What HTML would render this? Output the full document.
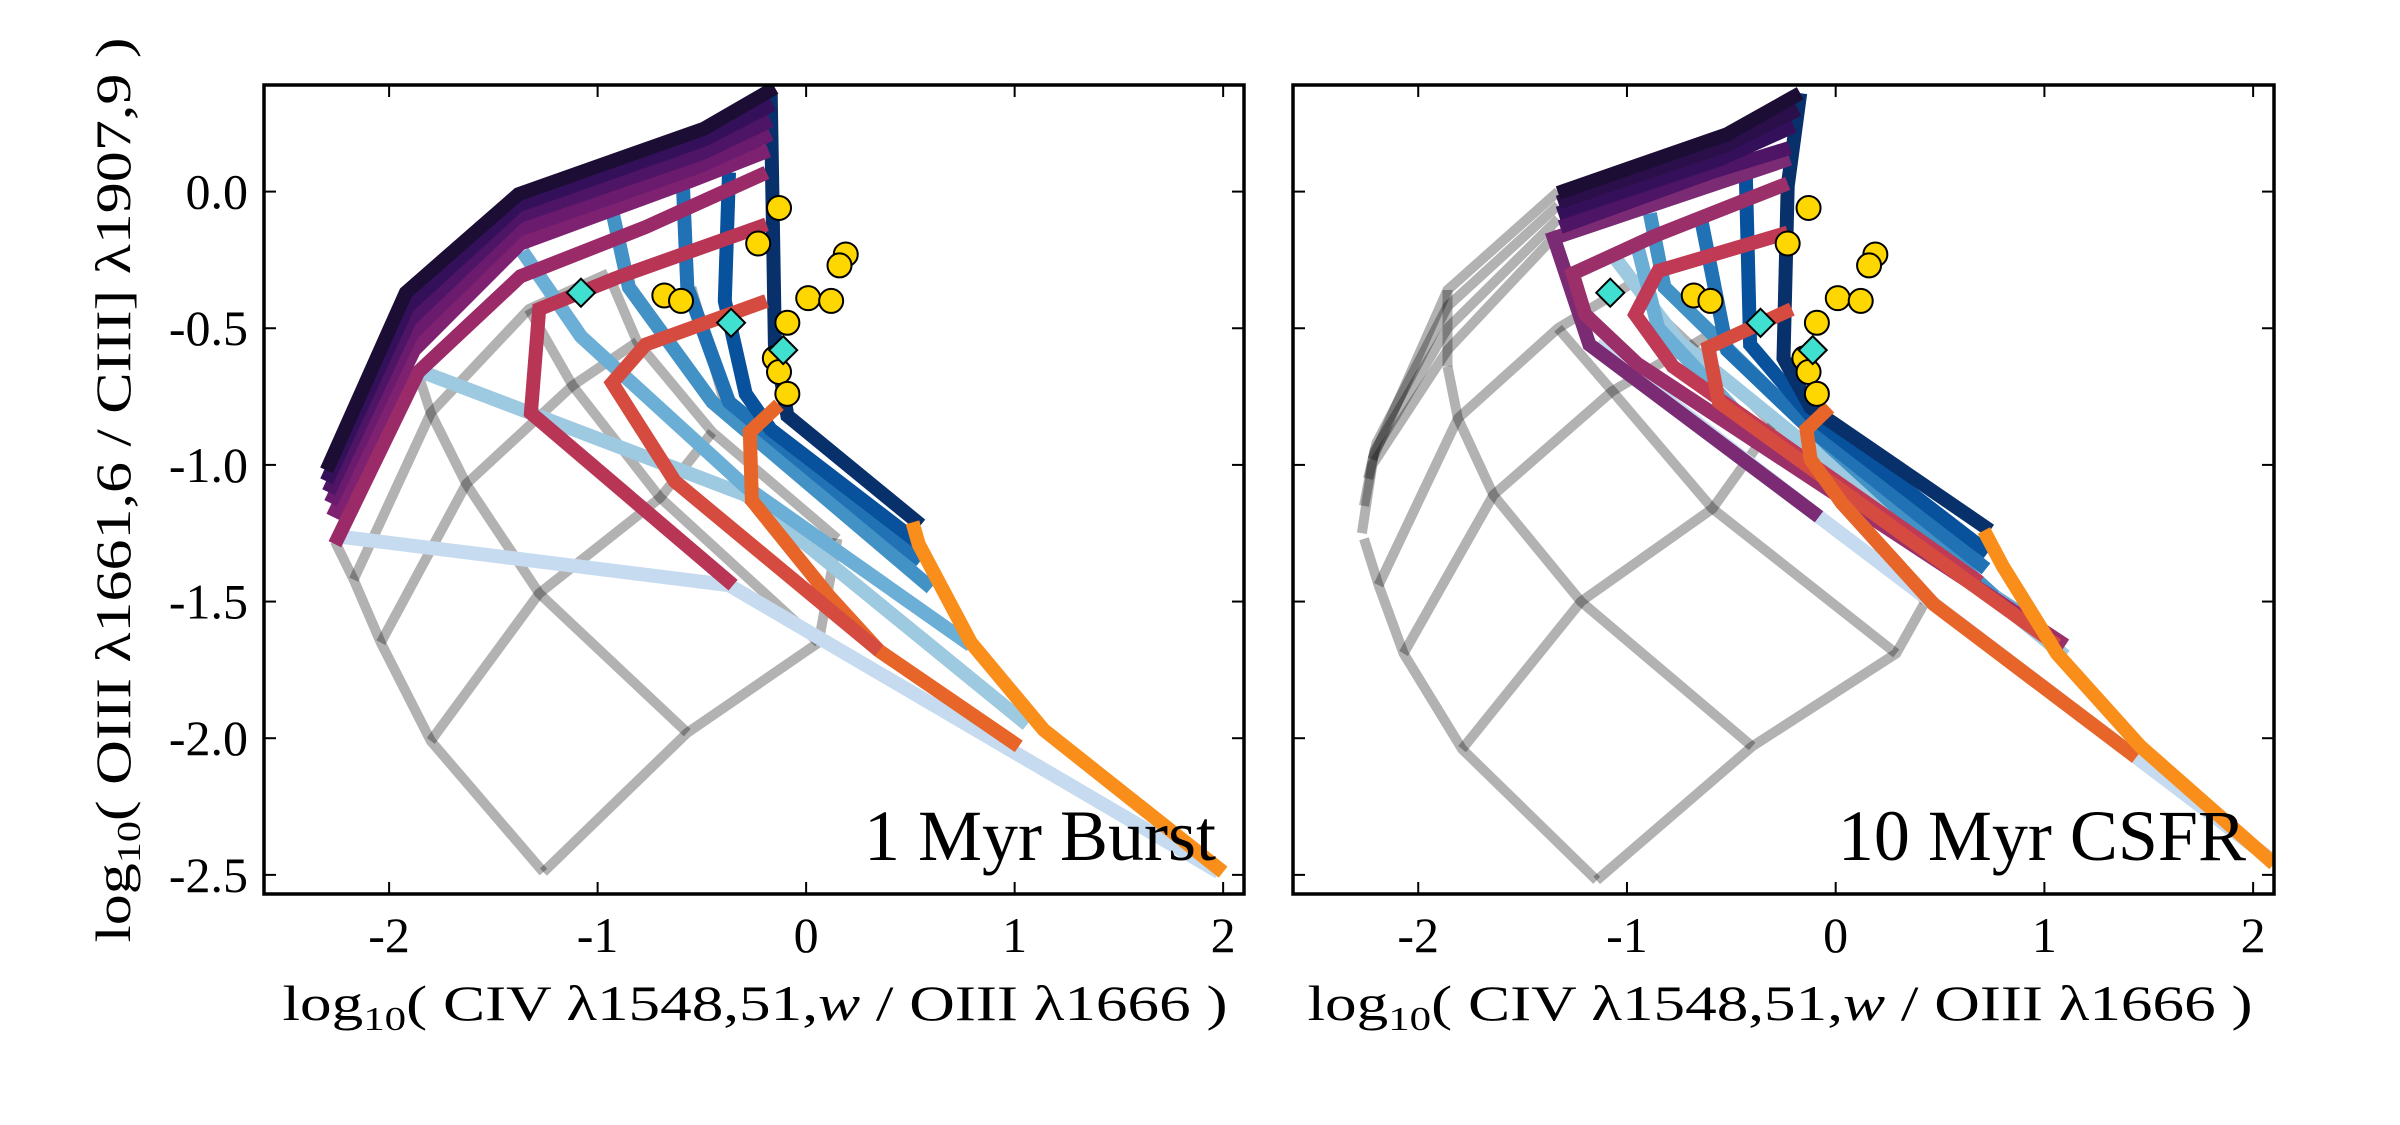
<!DOCTYPE html>
<html><head><meta charset="utf-8"><style>
html,body{margin:0;padding:0;background:#fff;}
svg{display:block;font-family:"Liberation Serif",serif;}
</style></head><body>
<svg id="chart" width="2400" height="1125" viewBox="0 0 2400 1125" xmlns="http://www.w3.org/2000/svg">
<defs>
<clipPath id="clipL"><rect x="264" y="85" width="980" height="809"/></clipPath>
<clipPath id="clipR"><rect x="1293" y="85" width="981" height="809"/></clipPath>
</defs>
<g id="left"></g>
<g id="right"></g>
<text transform="translate(130,490) rotate(-90)" text-anchor="middle" font-size="50" textLength="905" lengthAdjust="spacingAndGlyphs">log<tspan font-size="34" dy="10">10</tspan><tspan dy="-10">( OIII λ1661,6 / CIII] λ1907,9 )</tspan></text>
<text x="755" y="1020" text-anchor="middle" font-size="50" textLength="945" lengthAdjust="spacingAndGlyphs">log<tspan font-size="34" dy="10">10</tspan><tspan dy="-10">( CIV λ1548,51,<tspan font-style="italic">w</tspan> / OIII λ1666 )</tspan></text>
<text x="1780" y="1020" text-anchor="middle" font-size="50" textLength="945" lengthAdjust="spacingAndGlyphs">log<tspan font-size="34" dy="10">10</tspan><tspan dy="-10">( CIV λ1548,51,<tspan font-style="italic">w</tspan> / OIII λ1666 )</tspan></text>
</svg>
<script>
const NS='http://www.w3.org/2000/svg';
const xTicks=[-2,-1,0,1,2];
const yTicks=[0,-0.5,-1,-1.5,-2,-2.5];
const yTickLabels=['0.0','-0.5','-1.0','-1.5','-2.0','-2.5'];
const xTickLabels=['-2','-1','0','1','2'];
const obsX=[-0.13,-0.23,0.19,0.16,0.01,0.12,-0.68,-0.60,-0.09,-0.15,-0.13,-0.09];
const obsY=[-0.06,-0.19,-0.23,-0.27,-0.39,-0.40,-0.38,-0.40,-0.48,-0.61,-0.66,-0.74];
const dmX=[-1.08,-0.36,-0.11];
const dmY=[-0.37,-0.48,-0.58];
const meshLeft=[
[[-2.26,-1.28],[-2.17,-1.42],[-2.04,-1.65],[-1.80,-2.01],[-1.26,-2.49]],
[[-1.86,-0.67],[-1.80,-0.81],[-1.63,-1.07],[-1.28,-1.47],[-0.57,-1.98]],
[[-1.33,-0.43],[-1.12,-0.71],[-0.70,-1.12],[0.06,-1.65]],
[[-0.95,-0.30],[-0.81,-0.55],[-0.45,-0.88],[0.15,-1.27]],
[[-0.55,-0.35],[-0.40,-0.75],[0.05,-1.10]],
[[-1.26,-2.49],[-0.57,-1.98],[0.06,-1.65],[0.15,-1.27]],
[[-1.80,-2.01],[-1.28,-1.47],[-0.70,-1.12],[-0.45,-0.88]],
[[-2.04,-1.65],[-1.63,-1.07],[-1.12,-0.71],[-0.81,-0.55]],
[[-2.17,-1.42],[-1.80,-0.81],[-1.33,-0.43],[-0.95,-0.30]],
[[-2.26,-1.28],[-1.86,-0.67]]];
const meshRight=[
[[-2.26,-1.27],[-2.19,-1.44],[-2.07,-1.69],[-1.79,-2.04],[-1.145,-2.52]],
[[-1.86,-0.64],[-1.81,-0.83],[-1.64,-1.11],[-1.22,-1.50],[-0.40,-2.03]],
[[-1.33,-0.50],[-1.07,-0.73],[-0.59,-1.16],[0.29,-1.69]],
[[-0.85,-0.45],[-0.30,-0.85],[0.43,-1.50]],
[[-1.145,-2.52],[-0.40,-2.03],[0.29,-1.69],[0.43,-1.50]],
[[-1.79,-2.04],[-1.22,-1.50],[-0.59,-1.16],[-0.30,-0.85]],
[[-2.07,-1.69],[-1.64,-1.11],[-1.07,-0.73],[-0.55,-0.50]],
[[-2.19,-1.44],[-1.81,-0.83],[-1.33,-0.50],[-0.90,-0.30]],
[[-2.27,-1.25],[-2.22,-1.00],[-1.86,-0.58],[-1.33,-0.15]],
[[-2.26,-1.15],[-2.21,-0.95],[-1.86,-0.50],[-1.33,-0.10]],
[[-2.24,-1.05],[-2.20,-0.92],[-1.86,-0.42],[-1.33,-0.05]],
[[-2.22,-0.98],[-1.86,-0.36],[-1.33,0.0]],
[[-1.86,-0.36],[-1.86,-0.64]]];
const colLeft=[
['#c6dbef',[[-2.26,-1.26],[-0.37,-1.44],[1.98,-2.49]]],
['#9ecae1',[[-1.84,-0.66],[-0.29,-1.11],[1.06,-1.95]]],
['#6baed6',[[-1.36,-0.22],[-1.08,-0.53],[-0.29,-1.08],[0.79,-1.66]]],
['#4292c6',[[-0.93,-0.07],[-0.85,-0.35],[-0.45,-0.77],[0.60,-1.45]]],
['#2171b5',[[-0.59,0.01],[-0.57,-0.35],[-0.37,-0.77],[0.55,-1.35]]],
['#08519c',[[-0.37,0.07],[-0.39,-0.40],[-0.29,-0.74],[-0.17,-0.87],[0.53,-1.28]]],
['#08306b',[[-0.17,0.36],[-0.15,-0.56],[-0.09,-0.82],[0.55,-1.22]]],
['#9b2a68',[[-2.26,-1.29],[-1.86,-0.66],[-1.37,-0.31],[-0.77,-0.13],[-0.19,0.07]]],
['#7d2170',[[-2.27,-1.19],[-1.88,-0.58],[-1.37,-0.19],[-0.55,0.04],[-0.18,0.15]]],
['#6a1b6e',[[-2.28,-1.14],[-1.89,-0.52],[-1.38,-0.14],[-0.52,0.09],[-0.17,0.21]]],
['#4e1466',[[-2.29,-1.10],[-1.90,-0.47],[-1.38,-0.09],[-0.50,0.14],[-0.17,0.26]]],
['#35105a',[[-2.30,-1.06],[-1.91,-0.42],[-1.38,-0.05],[-0.49,0.19],[-0.16,0.32]]],
['#1c0d35',[[-2.30,-1.02],[-1.92,-0.37],[-1.38,-0.01],[-0.49,0.23],[-0.15,0.38]]],
['#b83556',[[-0.19,-0.12],[-0.89,-0.31],[-1.28,-0.43],[-1.32,-0.81],[-0.35,-1.44]]],
['#e8652a',[[-0.13,-0.78],[-0.27,-0.88],[-0.26,-1.13],[0.11,-1.48],[0.35,-1.68],[1.02,-2.03]]],
['#d64b40',[[-0.19,-0.40],[-0.77,-0.56],[-0.93,-0.70],[-0.63,-1.06],[0.35,-1.68]]],
['#f98e1a',[[0.51,-1.21],[0.54,-1.29],[0.79,-1.65],[1.14,-1.97],[2.00,-2.49]]]];
const colRight=[
['#c6dbef',[[-1.15,-0.56],[-0.08,-1.19],[2.08,-2.44]]],
['#9ecae1',[[-1.05,-0.25],[-0.75,-0.55],[0.30,-1.20],[1.10,-1.70]]],
['#6baed6',[[-0.95,-0.20],[-0.85,-0.50],[-0.30,-0.95],[0.90,-1.55]]],
['#4292c6',[[-0.89,-0.08],[-0.82,-0.35],[-0.19,-0.82],[0.76,-1.48]]],
['#2171b5',[[-0.65,-0.08],[-0.52,-0.58],[-0.15,-0.85],[0.72,-1.38]]],
['#08519c',[[-0.43,0.05],[-0.41,-0.56],[-0.12,-0.82],[0.73,-1.32]]],
['#08306b',[[-0.17,0.36],[-0.23,0.02],[-0.25,-0.61],[-0.12,-0.79],[0.74,-1.24]]],
['#7b2a74',[[-0.22,0.12],[-1.35,-0.17],[-1.18,-0.56],[-0.08,-1.19]]],
['#9b2f6a',[[-0.23,0.03],[-0.86,-0.16],[-1.26,-0.30],[-1.20,-0.45],[-0.95,-0.63],[1.10,-1.66]]],
['#4e1466',[[-1.32,-0.13],[-0.60,0.07],[-0.22,0.16]]],
['#35105a',[[-1.33,-0.08],[-0.55,0.12],[-0.20,0.24]]],
['#2a0f4a',[[-1.33,-0.04],[-0.52,0.17],[-0.18,0.30]]],
['#1c0d35',[[-1.33,-0.005],[-0.52,0.21],[-0.17,0.36]]],
['#c03a55',[[-0.23,-0.15],[-0.85,-0.29],[-0.96,-0.45],[-0.78,-0.64],[0.69,-1.43]]],
['#d64b40',[[-0.21,-0.43],[-0.61,-0.57],[-0.56,-0.77],[1.06,-1.66]]],
['#e8652a',[[-0.03,-0.79],[-0.14,-0.87],[-0.12,-0.98],[0.03,-1.14],[0.47,-1.51],[1.44,-2.07]]],
['#f98e1a',[[0.71,-1.24],[0.80,-1.37],[1.06,-1.69],[1.46,-2.03],[2.10,-2.46]]]];

function mk(tag,attrs,parent){const e=document.createElementNS(NS,tag);for(const k in attrs)e.setAttribute(k,attrs[k]);parent.appendChild(e);return e;}
function panel(gid,x0,x1,clip,mesh,cols,title,showY){
  const g=document.getElementById(gid);
  const X=v=>x0+(v+2.6)/4.7*(x1-x0);
  const Y=v=>85+(0.39-v)/2.96*809;
  const pts=a=>a.map(p=>X(p[0]).toFixed(1)+','+Y(p[1]).toFixed(1)).join(' ');
  const c=mk('g',{'clip-path':'url(#'+clip+')'},g);
  mesh.forEach(l=>{const e=mk('polyline',{points:pts(l),fill:'none',stroke:'#000','stroke-opacity':0.3,'stroke-width':10,'stroke-linejoin':'miter'},c);
    
    });
  cols.forEach(s=>{const e=mk('polyline',{points:pts(s[1]),fill:'none',stroke:s[0],'stroke-width':14,'stroke-linejoin':'miter'},c);
    
    });
  obsX.forEach((v,i)=>{const e=mk('circle',{cx:X(v),cy:Y(obsY[i]),r:12,fill:'#ffd700',stroke:'#000','stroke-width':2},c);
    
    });
  dmX.forEach((v,i)=>{const cx=X(v),cy=Y(dmY[i]);const e=mk('polygon',{points:`${cx},${cy-14} ${cx+14},${cy} ${cx},${cy+14} ${cx-14},${cy}`,fill:'#40e0d0',stroke:'#000','stroke-width':2},c);
    
    });
  const t=mk('text',{x:x1-28,y:860,'text-anchor':'end','font-size':72},g);t.textContent=title;
  
  
  xTicks.forEach((v,i)=>{const x=X(v);
    mk('line',{x1:x,y1:894,x2:x,y2:882,stroke:'#000','stroke-width':2},g);
    mk('line',{x1:x,y1:85,x2:x,y2:97,stroke:'#000','stroke-width':2},g);
    const l=mk('text',{x:x,y:952,'text-anchor':'middle','font-size':50},g);l.textContent=xTickLabels[i];
    
    });
  yTicks.forEach((v,i)=>{const y=Y(v);
    mk('line',{x1:x0,y1:y,x2:x0+12,y2:y,stroke:'#000','stroke-width':2},g);
    mk('line',{x1:x1,y1:y,x2:x1-12,y2:y,stroke:'#000','stroke-width':2},g);
    if(showY){const l=mk('text',{x:x0-16,y:y+17,'text-anchor':'end','font-size':50},g);l.textContent=yTickLabels[i];
      
      }});
  const f=mk('rect',{x:x0,y:85,width:x1-x0,height:809,fill:'none',stroke:'#000','stroke-width':3.5},g);
  
  
}
panel('left',264,1244,'clipL',meshLeft,colLeft,'1 Myr Burst',true);
panel('right',1293,2274,'clipR',meshRight,colRight,'10 Myr CSFR',false);
</script>
</body></html>
